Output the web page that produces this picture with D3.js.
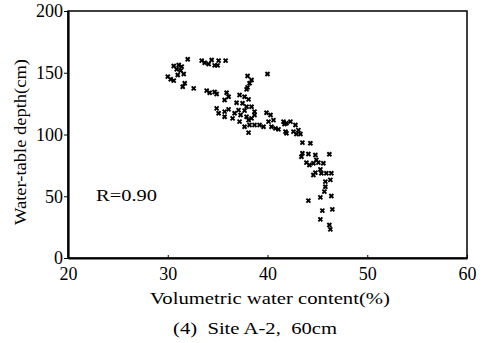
<!DOCTYPE html>
<html><head><meta charset="utf-8">
<script src="https://cdn.jsdelivr.net/npm/d3@7"></script>
<style>
html,body{margin:0;padding:0;background:#fff;}
svg{display:block;}
text{font-family:"Liberation Serif","Times New Roman","DejaVu Serif",serif;fill:#000;}
</style></head>
<body>
<svg id="chart" width="484" height="343"></svg>
<script>
// Volumetric water content (%)
const waterContent = [
32.0,33.4,33.7,34.1,34.4,34.7,35.1,35.0,35.8,30.6,31.1,31.4,30.9,31.3,31.0,31.6,30.0,30.3,30.6,31.7,
31.5,32.6,38.0,40.0,38.4,38.2,38.0,37.9,33.9,34.2,34.7,34.9,35.9,36.1,35.7,37.2,37.7,38.1,36.9,37.5,
37.9,38.4,38.7,34.9,35.1,35.7,36.1,35.7,36.5,36.7,37.1,37.3,37.7,37.9,38.1,38.4,38.7,38.2,37.7,38.1,
37.2,38.7,39.2,39.6,39.9,40.3,40.1,40.6,40.4,40.8,41.1,41.6,41.9,42.3,41.8,42.6,43.1,41.7,42.8,41.9,
42.9,43.3,43.5,44.3,43.5,43.4,44.1,44.8,46.2,43.9,44.2,44.6,44.9,45.1,45.6,45.3,44.8,44.6,45.4,46.4,
46.3,45.9,45.8,45.8,45.7,45.3,46.4,44.1,45.5,46.5,45.3,46.2,46.3
];
// Water-table depth (cm)
const tableDepth = [
160.9,159.8,158.1,157.1,160.3,156.0,159.8,156.0,159.8,155.5,156.3,154.9,152.8,151.7,148.2,149.0,146.8,144.7,143.6,141.5,
138.7,137.4,147.4,149.0,144.1,141.5,138.2,136.6,135.5,133.8,134.4,132.8,133.8,130.6,127.9,132.0,130.6,128.5,125.7,125.3,
122.5,122.5,118.5,121.2,117.2,118.5,120.4,114.4,113.1,117.2,119.8,115.8,119.3,114.4,111.7,113.1,115.8,107.7,106.3,101.5,
110.4,107.7,107.7,106.3,117.6,115.8,110.4,111.7,106.3,105.0,104.2,110.4,109.1,110.4,102.3,102.3,103.6,108.5,107.7,101.0,
100.4,100.4,93.4,92.9,84.8,82.0,84.2,83.4,84.0,77.2,75.3,76.7,79.4,77.2,76.7,71.8,69.1,67.2,68.6,68.6,
63.2,68.6,61.8,57.7,53.7,49.1,50.2,46.4,38.3,39.4,31.3,26.7,23.2
];
const xTicks = [20, 30, 40, 50, 60];
const yTicks = [0, 50, 100, 150, 200];
const xTitle = "Volumetric water content(%)";
const yTitle = "Water-table depth(cm)";
const caption = "(4)  Site A-2,  60cm";
const rLabel = "R=0.90";

(function () {
const svg = d3.select("#chart");
const serif = "'Liberation Serif','Times New Roman','DejaVu Serif',serif";
const mLeft = 68, mRight = 467, mTop = 11, mBottom = 258;
const x = d3.scaleLinear().domain([20, 60]).range([mLeft, mRight]);
const y = d3.scaleLinear().domain([0, 200]).range([mBottom, mTop]);

// frame
svg.append("rect").attr("x", mLeft).attr("y", mTop)
  .attr("width", mRight - mLeft).attr("height", mBottom - mTop)
  .attr("fill", "none").attr("stroke", "#000").attr("stroke-width", 1.5);

// axes
const xAxis = d3.axisBottom(x).tickValues(xTicks).tickSizeInner(-3).tickSizeOuter(0).tickPadding(9);
const gx = svg.append("g").attr("transform", `translate(0,${mBottom})`).call(xAxis);
gx.attr("font-family", serif);
gx.select(".domain").attr("stroke-width", 2.2);
gx.selectAll("text").attr("font-size", 18).attr("font-family", serif);

const yAxis = d3.axisLeft(y).tickValues(yTicks).tickSizeInner(4).tickSizeOuter(0).tickPadding(1);
const gy = svg.append("g").attr("transform", `translate(${mLeft},0)`).call(yAxis);
gy.attr("font-family", serif);
gy.select(".domain").attr("stroke-width", 2.2);
gy.selectAll("text").attr("font-size", 18).attr("font-family", serif);

// points as small x marks
const pts = d3.range(waterContent.length).map(i => [waterContent[i], tableDepth[i]]);
const s = 2;
svg.append("g").selectAll("path").data(pts).join("path")
  .attr("d", d => {
    const cx = x(d[0]), cy = y(d[1]);
    return `M${cx-s},${cy-s}L${cx+s},${cy+s}M${cx-s},${cy+s}L${cx+s},${cy-s}`;
  })
  .attr("stroke", "#000").attr("stroke-width", 1.9).attr("fill", "none");

// R label
svg.append("text").attr("x", 96).attr("y", 201).attr("font-size", 17)
  .attr("textLength", 61).attr("lengthAdjust", "spacingAndGlyphs").text(rLabel);

// titles
svg.append("text").attr("x", 150).attr("y", 304)
  .attr("font-size", 17).attr("textLength", 240).attr("lengthAdjust", "spacingAndGlyphs").text(xTitle);
svg.append("text").attr("transform", "translate(26,225) rotate(-90)")
  .attr("font-size", 17).attr("textLength", 166).attr("lengthAdjust", "spacingAndGlyphs").text(yTitle);
svg.append("text").attr("x", 173).attr("y", 334)
  .attr("font-size", 16).style("white-space", "pre")
  .attr("textLength", 164).attr("lengthAdjust", "spacingAndGlyphs").text(caption);
})();
</script>
</body></html>
